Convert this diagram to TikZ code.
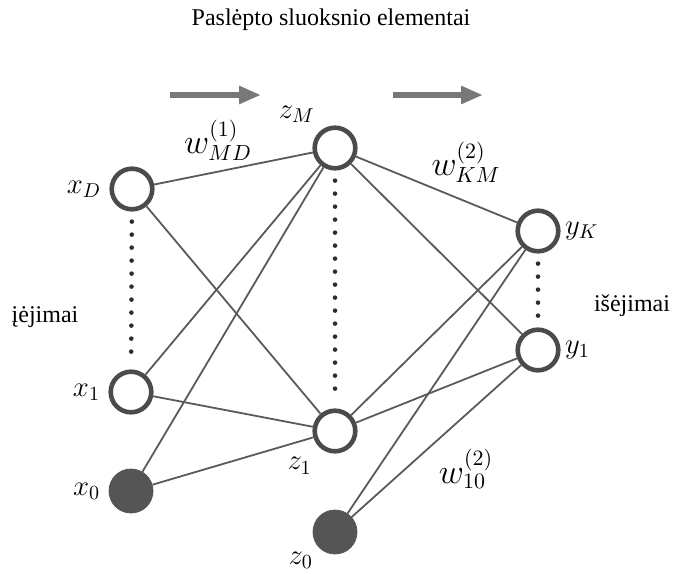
\documentclass[tikz,border=0pt]{standalone}
\definecolor{ringGray}{RGB}{75,75,75}
\definecolor{biasGray}{RGB}{85,85,85}
\definecolor{linkGray}{RGB}{90,90,90}
\definecolor{dotGray}{RGB}{45,45,45}
\definecolor{flowGray}{RGB}{120,120,120}
\usepackage{fontspec}
\setmainfont{Liberation Serif}
\usetikzlibrary{arrows.meta,positioning}

\begin{document}
\begin{tikzpicture}[x=0.5pt, y=-0.5pt,
  unit/.style={circle, draw=ringGray, line width=2.3pt, fill=white,
               minimum size=20.3pt, inner sep=0pt},
  bias/.style={circle, draw=biasGray, fill=biasGray, line width=0.4pt,
               minimum size=22pt, inner sep=0pt},
  lbl/.style={inner sep=1pt, font=\fontsize{14}{16}\selectfont},
  wlbl/.style={inner sep=1pt, font=\fontsize{16}{18}\selectfont},
  txt/.style={inner sep=1pt, font=\fontsize{12}{14}\selectfont},
  link/.style={draw=linkGray, line width=0.9pt},
  dotchain/.style={draw=dotGray, line width=2.3pt, line cap=round,
                   dash pattern=on 0pt off 6.5pt, shorten >=5pt, shorten <=5pt},
  flow/.style={-{Triangle[length=11pt, width=8.5pt]}, line width=3.2pt, flowGray}
]
  \useasboundingbox (0,0) rectangle (673,573);

  \node[unit] (xD) at (132,189) {};
  \node[unit] (x1) at (131,392) {};
  \node[bias] (x0) at (131,491) {};
  \node[unit] (zM) at (335,148) {};
  \node[unit] (z1) at (335,431) {};
  \node[bias] (z0) at (335,532) {};
  \node[unit] (yK) at (538,231) {};
  \node[unit] (y1) at (538,350) {};

  \node[lbl, left=3pt of xD]                   (xDl) {$x_D$};
  \node[lbl, left=3pt of x1]                   (x1l) {$x_1$};
  \node[lbl, left=3pt of x0]                   (x0l) {$x_0$};
  \node[lbl, above left=3.5pt and 1pt of zM]   (zMl) {$z_M$};
  \node[lbl, below left=4pt and 2.5pt of z1]   (z1l) {$z_1$};
  \node[lbl, below left=1pt and 2pt of z0]     (z0l) {$z_0$};
  \node[lbl, right=1pt of yK]                  (yKl) {$y_K$};
  \node[lbl, right=1pt of y1]                  (y1l) {$y_1$};

  \foreach \a in {xD,x1,x0}
    \foreach \b in {zM,z1}
      \draw[link] (\a) -- (\b);
  \foreach \a in {zM,z1,z0}
    \foreach \b in {yK,y1}
      \draw[link] (\a) -- (\b);

  \draw[dotchain] (xD) -- (x1);
  \draw[dotchain] (zM) -- (z1);
  \draw[dotchain] (yK) -- (y1);

  \node[wlbl] (w1) at (218,140) {$w^{(1)}_{MD}$};
  \node[wlbl] (w2) at (466,162) {$w^{(2)}_{KM}$};
  \node[wlbl] (w3) at (466,469) {$w^{(2)}_{10}$};

  \coordinate (f1a) at (170,95);
  \coordinate (f1b) at (261,95);
  \coordinate (f2a) at (393,95);
  \coordinate (f2b) at (483,95);
  \draw[flow] (f1a) -- (f1b);
  \draw[flow] (f2a) -- (f2b);

  \node[txt] (title)  at (331,20)  {Paslėpto sluoksnio elementai};
  \node[txt] (inlbl)  at (45,317)  {įėjimai};
  \node[txt] (outlbl) at (632,306) {išėjimai};
\end{tikzpicture}
\end{document}
